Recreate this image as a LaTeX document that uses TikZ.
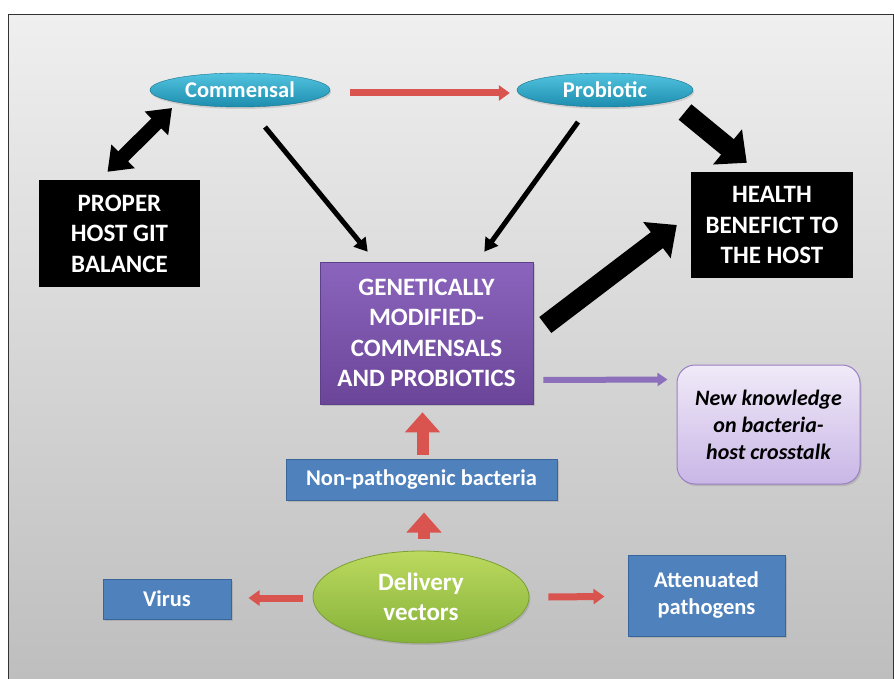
\documentclass[tikz,border=0pt]{standalone}
\usepackage{fontspec}
\setmainfont{Carlito}
\usetikzlibrary{arrows.meta,shapes.geometric,shadows,calc}
\definecolor{bgtop}{HTML}{EFEFEF}
\definecolor{bgbot}{HTML}{BEBEBE}
\definecolor{tealtop}{HTML}{52C3DF}
\definecolor{tealbot}{HTML}{1C8DAE}
\definecolor{purtop}{HTML}{8B65BD}
\definecolor{purbot}{HTML}{6A4598}
\definecolor{purline}{HTML}{5E3F8A}
\definecolor{lavtop}{HTML}{F0EAF8}
\definecolor{lavbot}{HTML}{C9B6E6}
\definecolor{lavline}{HTML}{9A80C4}
\definecolor{bluefill}{HTML}{4F81BD}
\definecolor{blueline}{HTML}{3A659A}
\definecolor{greentop}{HTML}{BCD95E}
\definecolor{greenbot}{HTML}{86B23A}
\definecolor{greenline}{HTML}{7AA034}
\definecolor{redarr}{HTML}{D9534F}
\definecolor{purarr}{HTML}{8C70BC}
\tikzset{
  ovalnode/.style={ellipse, top color=tealtop, bottom color=tealbot, draw=tealbot!80!black, line width=0.4pt,
    text=white, font=\bfseries\fontsize{22.5}{24}\selectfont, inner sep=0pt,
    drop shadow={opacity=0.25, shadow xshift=1pt, shadow yshift=-2pt}},
  blackbox/.style={rectangle, fill=black, text=white, align=center, inner sep=0pt,
    font=\bfseries\fontsize{25}{30.5}\selectfont},
  bluebox/.style={rectangle, fill=bluefill, draw=blueline, line width=1pt, text=white, align=center, inner sep=0pt,
    font=\bfseries\fontsize{22.5}{27}\selectfont,
    drop shadow={opacity=0.3, shadow xshift=1.5pt, shadow yshift=-2pt}},
  gmbox/.style={rectangle, top color=purtop, bottom color=purbot, draw=purline, line width=0.6pt, text=white, align=center, inner sep=0pt,
    font=\bfseries\fontsize{25}{30.5}\selectfont,
    drop shadow={opacity=0.3, shadow xshift=1.5pt, shadow yshift=-2pt}},
  knowbox/.style={rectangle, rounded corners=18pt, top color=lavtop, bottom color=lavbot, draw=lavline, line width=1pt, align=center, inner sep=0pt,
    font=\bfseries\itshape\fontsize{22}{27}\selectfont,
    drop shadow={opacity=0.3, shadow xshift=1.5pt, shadow yshift=-2pt}},
  greenoval/.style={ellipse, top color=greentop, bottom color=greenbot, draw=greenline, line width=0.8pt, text=white, align=center, inner sep=0pt,
    font=\bfseries\fontsize{25}{30}\selectfont,
    drop shadow={opacity=0.3, shadow xshift=1.5pt, shadow yshift=-2pt}},
  fatarrow/.style={draw=black, line width=20pt, -{Triangle[width=44pt,length=25pt]}},
  dblarrow/.style={draw=black, line width=14pt, {Triangle[width=32pt,length=22pt]}-{Triangle[width=32pt,length=22pt]}},
  thinarrow/.style={draw=black, line width=5pt, -{Triangle[width=15pt,length=13pt]}},
  redarrow/.style={draw=redarr, line width=7pt, -{Triangle[width=15pt,length=11pt]}},
  redfat/.style={draw=redarr, line width=12pt, -{Triangle[width=34pt,length=20pt]}},
  purarrow/.style={draw=purarr, line width=6pt, -{Triangle[width=13pt,length=10pt]}}
}
\begin{document}
\begin{tikzpicture}[x=1pt,y=-1pt]
\useasboundingbox (0,0) rectangle (894,679);
\shade[top color=bgtop, bottom color=bgbot] (8,15) rectangle (893,679);
\draw[black!80, line width=1pt] (8,679) -- (8,15) -- (893,15) -- (893,679);

% nodes
\node[ovalnode, minimum width=180pt, minimum height=34pt] (com) at (240,90) {Commensal};
\node[ovalnode, minimum width=176pt, minimum height=34pt] (pro) at (605,90) {Probiotic};
\node[blackbox, minimum width=161pt, minimum height=107pt] (prop) at (119.5,233.5) {PROPER\\HOST GIT\\BALANCE};
\node[blackbox, minimum width=162pt, minimum height=106pt] (health) at (772,225) {HEALTH\\BENEFICT TO\\THE HOST};
\node[gmbox, minimum width=213pt, minimum height=142pt] (gm) at (426.5,333) {GENETICALLY\\MODIFIED-\\COMMENSALS\\AND PROBIOTICS};
\node[knowbox, minimum width=183pt, minimum height=119pt] (new) at (768.5,424.5) {New knowledge\\on bacteria-\\host crosstalk};
\node[bluebox, minimum width=271pt, minimum height=41pt] (np) at (421.5,479.5) {Non-pathogenic bacteria};
\node[greenoval, minimum width=216pt, minimum height=92pt] (del) at (421,597) {Delivery\\vectors};
\node[bluebox, minimum width=128pt, minimum height=40pt] (virus) at (167,599) {Virus};
\node[bluebox, minimum width=157pt, minimum height=81pt] (att) at (706.5,595.5) {Attenuated\\pathogens};

% connectors
\draw[redarrow] ($(com.east)+(20,3)$) -- ($(pro.west)+(-7,3)$);
\draw[dblarrow] ($(prop.north)+(-12,-8)$) -- ($(com.center)+(-68,18)$);
\draw[thinarrow] ($(com.center)+(25,37)$) -- ($(gm.north west)+(48,-10)$);
\draw[thinarrow] ($(pro.center)+(-27,32)$) -- ($(gm.north east)+(-49,-10)$);
\draw[fatarrow] ($(pro.center)+(80,22)$) -- ($(health.north west)+(56,-9)$);
\draw[fatarrow] ($(gm.east)+(12,-8)$) -- ($(health.west)+(-14,0)$);
\draw[purarrow] ($(gm.east)+(10,47)$) -- ($(new.west)+(-9,-45)$);
\draw[redfat] ($(np.north)+(1,-4)$) -- ($(gm.south)+(-4,8)$);
\draw[redfat] ($(del.north)+(3,-12)$) -- ($(np.south)+(2.5,12)$);
\draw[redarrow] ($(del.west)+(-10,1)$) -- ($(virus.east)+(17,-1)$);
\draw[redarrow] ($(del.east)+(19,0)$) -- ($(att.west)+(-23,1)$);
\end{tikzpicture}
\end{document}
